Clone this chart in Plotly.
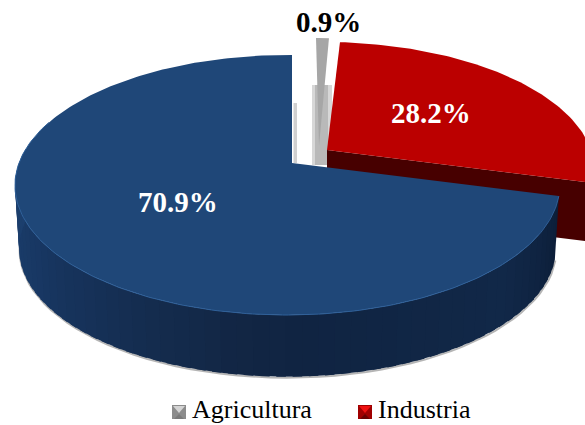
import numpy as np
import plotly.graph_objects as go

# ---- data ----
categories = ["Agricultura", "Industria", "Servicios"]
values = [0.9, 28.2, 70.9]
top_colors = ["#a6a6a6", "#bb0000", "#1f4778"]
legend_items = ["Agricultura", "Industria"]

# ---- pie projection (pixels of the 585x425 page) ----
A, B, K, M = 268.5, 126.3, 0.169, 0.0165
DEPTH = 64
RED_DEPTH = 59
BOTTOM_SCALE = 0.985
CENTERS = [(316, 146), (327, 150), (292, 163)]


def project(theta, cx, cy, scale=1.0):
    d = 1 + K * np.cos(theta) + M * np.sin(theta)
    return cx + scale * A * np.sin(theta) / d, cy - scale * B * np.cos(theta) / d


total = sum(values)
edges = np.concatenate([[0], np.cumsum(values)]) / total * 2 * np.pi

fig = go.Figure()


def poly(xs, ys, color):
    fig.add_trace(go.Scatter(x=list(xs), y=list(ys), mode="lines", fill="toself", fillcolor=color,
                             line=dict(width=0), hoverinfo="skip", showlegend=False))


def mix(c1, c2, t):
    return "rgb(%d,%d,%d)" % tuple(round(a + (b - a) * t) for a, b in zip(c1, c2))


# ---- grey slice ----
gx, gy = CENTERS[0]
t0, t1 = edges[0], edges[1]
poly([gx - 4, gx + 16, gx + 16, gx - 4], [gy - 61, gy - 61, gy + 19, gy + 19], "rgba(150,150,150,0.38)")
poly([gx - 1, gx + 12, gx + 12, gx - 1], [gy - 61, gy - 61, gy + 19, gy + 19], "rgba(140,140,140,0.4)")
th = np.linspace(t0, t1, 6)
ax, ay = project(th, gx, gy)
poly(np.r_[gx + 3, ax], np.r_[gy, ay], top_colors[0])

# ---- red slice ----
rx, ry = CENTERS[1]
t0, t1 = edges[1], edges[2]
ex, ey = project(t1, rx, ry)
ebx, eby = project(t1, rx, ry + RED_DEPTH, BOTTOM_SCALE)
poly([rx, ex, ebx, rx], [ry, ey, eby, ry + RED_DEPTH], "#470000")
th = np.linspace(t0, t1, 80)
ax, ay = project(th, rx, ry)
poly(np.r_[rx, ax], np.r_[ry, ay], top_colors[1])

# ---- blue slice: side bands, shadow, then top face ----
bx, by = CENTERS[2]
t0, t1 = edges[2], edges[3]
poly([bx + 1.5, bx + 5, bx + 5, bx + 1.5], [by - 60, by - 60, by, by], "rgba(150,150,150,0.45)")

side_end = np.deg2rad(278)
stops = [(t0, (12, 30, 56)), (np.deg2rad(135), (17, 40, 72)), (np.deg2rad(178), (16, 36, 66)),
         (np.deg2rad(190), (18, 38, 68)), (np.deg2rad(240), (24, 56, 100)), (side_end, (29, 65, 112))]
th = np.linspace(t0, side_end, 60)

sx, sy = project(th, bx + 0.5, by + DEPTH + 1, BOTTOM_SCALE)
fig.add_trace(go.Scatter(x=sx, y=sy, mode="lines", line=dict(color="rgba(120,120,120,0.55)", width=2),
                         hoverinfo="skip", showlegend=False))

for i in range(len(th) - 1):
    seg = np.linspace(th[i], th[i + 1] + 0.03, 4)
    seg = seg[seg <= side_end]
    ux, uy = project(seg, bx, by)
    lx, ly = project(seg[::-1], bx, by + DEPTH, BOTTOM_SCALE)
    m = 0.5 * (th[i] + th[i + 1])
    for (a, ca), (b, cb) in zip(stops[:-1], stops[1:]):
        if a <= m <= b:
            col = mix(ca, cb, (m - a) / (b - a))
            break
    poly(np.r_[ux, lx], np.r_[uy, ly], col)

th = np.linspace(t0, t1, 240)
ax, ay = project(th, bx, by)
poly(np.r_[bx, ax], np.r_[by, ay], top_colors[2])
front = th[th < np.deg2rad(290)]
fx, fy = project(front, bx, by)
fig.add_trace(go.Scatter(x=fx, y=fy, mode="lines", line=dict(color="#2f6099", width=1),
                         hoverinfo="skip", showlegend=False))

# ---- value labels ----
label_pos = [(328, 22, "#000000"), (431, 113, "#ffffff"), (178, 202, "#ffffff")]
annotations = [dict(x=x, y=y, text=f"{v}%", showarrow=False, xref="x", yref="y",
                    font=dict(family="Liberation Serif", size=29, color=c, weight="bold"))
               for v, (x, y, c) in zip(values, label_pos)]

# ---- legend ----
legend_pos = [(172, 190), (358, 376)]
swatches = [("#8c8c8c", "#d4d4d4", "#7a7a7a"), ("#a00000", "#ee1111", "#6a0000")]
SW, SY = 14, 405
for name, (sx0, tx), (base, light, dark) in zip(legend_items, legend_pos, swatches):
    poly([sx0, sx0 + SW, sx0 + SW, sx0], [SY, SY, SY + SW, SY + SW], base)
    poly([sx0 + 1, sx0 + SW - 1, sx0 + SW / 2], [SY + 1, SY + 1, SY + SW / 2 + 1], light)
    poly([sx0 + 2, sx0 + SW - 2, sx0 + SW / 2], [SY + SW, SY + SW, SY + SW / 2 + 2], dark)
    annotations.append(dict(x=tx, y=409, text=name, showarrow=False, xref="x", yref="y", xanchor="left",
                            font=dict(family="Liberation Serif", size=26, color="#000000")))

fig.update_layout(
    width=585, height=425, margin=dict(l=0, r=0, t=0, b=0),
    paper_bgcolor="#ffffff", plot_bgcolor="#ffffff", showlegend=False,
    xaxis=dict(range=[0, 585], visible=False, fixedrange=True),
    yaxis=dict(range=[425, 0], visible=False, fixedrange=True),
    annotations=annotations,
)
fig.write_html("out.html", config=dict(displayModeBar=False),
               post_script="document.body.style.margin='0';document.documentElement.style.overflow='hidden';")
